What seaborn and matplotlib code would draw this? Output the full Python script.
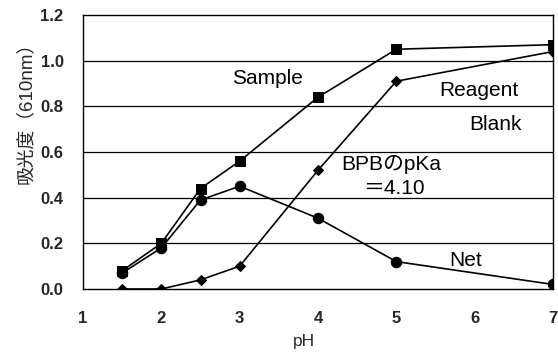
import numpy as np
import pandas as pd
import seaborn as sns
import matplotlib.pyplot as plt

# === Data ===
ph = [1.5, 2.0, 2.5, 3.0, 4.0, 5.0, 7.0]
sample = [0.08, 0.20, 0.44, 0.56, 0.84, 1.05, 1.07]
reagent_blank = [0.00, 0.00, 0.04, 0.10, 0.52, 0.91, 1.04]
net = [0.07, 0.18, 0.39, 0.45, 0.31, 0.12, 0.02]

x_ticks = [1, 2, 3, 4, 5, 6, 7]
y_ticks = [0.0, 0.2, 0.4, 0.6, 0.8, 1.0, 1.2]

sns.set_style("white")
plt.rcParams['font.family'] = ['Liberation Sans', 'Noto Sans CJK JP', 'DejaVu Sans']

df = pd.DataFrame({"pH": ph, "Sample": sample, "Reagent Blank": reagent_blank, "Net": net})

fig = plt.figure(figsize=(5.58, 3.53), dpi=100)
ax = fig.add_axes([83 / 558, 1 - 289 / 353, 470 / 558, 274 / 353])

# horizontal grid lines
for yv in y_ticks[1:-1]:
    ax.axhline(yv, color="black", lw=0.9, zorder=0)

line_kw = dict(color="black", lw=1.2, markeredgecolor="black", markerfacecolor="black", legend=False)
sns.lineplot(data=df, x="pH", y="Sample", marker="s", markersize=7, ax=ax, **line_kw)
sns.lineplot(data=df, x="pH", y="Reagent Blank", marker="D", markersize=5.5, ax=ax, **line_kw)
sns.lineplot(data=df, x="pH", y="Net", marker="o", markersize=7.5, ax=ax, **line_kw)

ax.set_xlim(1, 7)
ax.set_ylim(0, 1.2)
ax.set_xticks(x_ticks)
ax.set_yticks(y_ticks)
ax.set_xticklabels([str(t) for t in x_ticks], fontsize=12, fontweight="bold")
ax.set_yticklabels([f"{t:.1f}" for t in y_ticks], fontsize=12, fontweight="bold")
ax.tick_params(axis="x", direction="in", length=4, width=0.8, pad=16, color="black")
ax.tick_params(axis="y", length=0, pad=14)

for s in ax.spines.values():
    s.set_color("black")
    s.set_linewidth(1.0)

ax.set_xlabel("pH", fontsize=12.5)
ax.xaxis.set_label_coords(0.47, -0.165)
ax.set_ylabel("吸光度（610nm）", fontsize=13.5)
ax.yaxis.set_label_coords(-0.102, 0.66)

# annotations
txt = dict(fontsize=15, ha="center", va="center", color="black")
ax.text(3.35, 0.92, "Sample", **txt)
ax.text(6.06, 0.87, "Reagent", **txt)
ax.text(6.27, 0.72, "Blank", **txt)
ax.text(4.94, 0.545, "BPBのpKa", **txt)
ax.text(4.97, 0.44, "＝4.10", **txt)
ax.text(5.89, 0.125, "Net", **txt)

plt.savefig("out.png", dpi=100)
